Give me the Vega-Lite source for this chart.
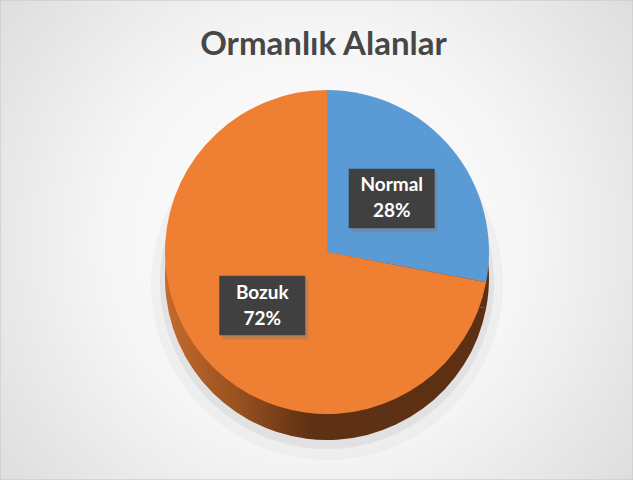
{
  "$schema": "https://vega.github.io/schema/vega-lite/v6.json",
  "width": 633,
  "height": 480,
  "autosize": "none",
  "padding": 0,
  "background": "#ffffff",
  "config": {"view": {"stroke": null}, "font": "Lato"},
  "title": {
    "text": "Ormanlık Alanlar",
    "font": "Lato",
    "fontSize": 33,
    "fontWeight": "bold",
    "color": "#474747",
    "anchor": "middle",
    "frame": "group",
    "baseline": "alphabetic",
    "offset": -88,
    "dx": 7
  },
  "data": {"values": [
    {"category": "Normal", "value": 0.28},
    {"category": "Bozuk", "value": 0.72}
  ]},
  "layer": [
    {
      "data": {"values": [{}]},
      "mark": {
        "type": "rect",
        "stroke": "#c4c4c4",
        "strokeWidth": 1,
        "color": {
          "gradient": "radial",
          "x1": 0.5, "y1": 0.5, "r1": 0,
          "x2": 0.5, "y2": 0.5, "r2": 0.72,
          "stops": [
            {"offset": 0, "color": "#ffffff"},
            {"offset": 0.45, "color": "#f6f6f6"},
            {"offset": 1, "color": "#d6d6d6"}
          ]
        }
      },
      "encoding": {
        "x": {"value": 0}, "x2": {"value": "width"},
        "y": {"value": 0}, "y2": {"value": "height"}
      }
    },
    {
      "mark": {"type": "arc", "outerRadius": 176, "color": "#d0d0d0", "opacity": 0.2, "xOffset": 10.5, "yOffset": 44},
      "encoding": {"theta": {"field": "value", "type": "quantitative", "stack": true}}
    },
    {
      "mark": {"type": "arc", "outerRadius": 167, "color": "#bcbcbc", "opacity": 0.25, "xOffset": 10.5, "yOffset": 42},
      "encoding": {"theta": {"field": "value", "type": "quantitative", "stack": true}}
    },
    {
      "mark": {
        "type": "arc",
        "outerRadius": 162,
        "xOffset": 10.5,
        "yOffset": 38,
        "color": {
          "gradient": "linear",
          "x1": 0, "y1": 0, "x2": 1, "y2": 0,
          "stops": [
            {"offset": 0, "color": "#c46a2d"},
            {"offset": 0.22, "color": "#9a521f"},
            {"offset": 0.45, "color": "#5f3114"},
            {"offset": 1, "color": "#5e3013"}
          ]
        }
      },
      "encoding": {"theta": {"field": "value", "type": "quantitative", "stack": true}}
    },
    {
      "mark": {"type": "arc", "outerRadius": 162, "xOffset": 10.5, "yOffset": 12},
      "encoding": {
        "theta": {"field": "value", "type": "quantitative", "stack": true},
        "order": {"field": "category", "sort": "descending"},
        "color": {
          "field": "category",
          "type": "nominal",
          "scale": {"domain": ["Normal", "Bozuk"], "range": ["#5b9bd5", "#ef7f32"]},
          "legend": null
        }
      }
    },
    {
      "transform": [
        {"window": [{"op": "sum", "field": "value", "as": "cum"}], "sort": [{"field": "category", "order": "descending"}], "frame": [null, 0]},
        {"joinaggregate": [{"op": "sum", "field": "value", "as": "total"}]},
        {"calculate": "(datum.cum - datum.value / 2) / datum.total * 2 * PI", "as": "mid"},
        {"calculate": "84 * sin(datum.mid)", "as": "lx"},
        {"calculate": "84 * cos(datum.mid)", "as": "ly"}
      ],
      "layer": [
        {
          "mark": {"type": "point", "shape": "M-1,-0.69L1,-0.69L1,0.69L-1,0.69Z", "size": 7400, "filled": true, "color": "#7a7a7a", "opacity": 0.4, "xOffset": 3, "yOffset": 4},
          "encoding": {
            "x": {"field": "lx", "type": "quantitative", "scale": {"domain": [-327, 306], "nice": false, "zero": false}, "axis": null},
            "y": {"field": "ly", "type": "quantitative", "scale": {"domain": [-228, 252], "nice": false, "zero": false}, "axis": null}
          }
        },
        {
          "mark": {"type": "point", "shape": "M-1,-0.69L1,-0.69L1,0.69L-1,0.69Z", "size": 7400, "filled": true, "color": "#404040", "opacity": 1},
          "encoding": {
            "x": {"field": "lx", "type": "quantitative", "axis": null},
            "y": {"field": "ly", "type": "quantitative", "axis": null}
          }
        }
      ]
    },
    {
      "mark": {"type": "text", "radius": 84, "xOffset": 10.5, "yOffset": 12, "dy": -7, "baseline": "alphabetic", "align": "center", "font": "Lato", "fontSize": 19, "fontWeight": "bold", "color": "#ffffff"},
      "encoding": {
        "theta": {"field": "value", "type": "quantitative", "stack": true},
        "order": {"field": "category", "sort": "descending"},
        "text": {"field": "category"}
      }
    },
    {
      "mark": {"type": "text", "radius": 84, "xOffset": 10.5, "yOffset": 12, "dy": 19, "baseline": "alphabetic", "align": "center", "font": "Lato", "fontSize": 19, "fontWeight": "bold", "color": "#ffffff"},
      "encoding": {
        "theta": {"field": "value", "type": "quantitative", "stack": true},
        "order": {"field": "category", "sort": "descending"},
        "text": {"field": "value", "format": ".0%"}
      }
    }
  ]
}
